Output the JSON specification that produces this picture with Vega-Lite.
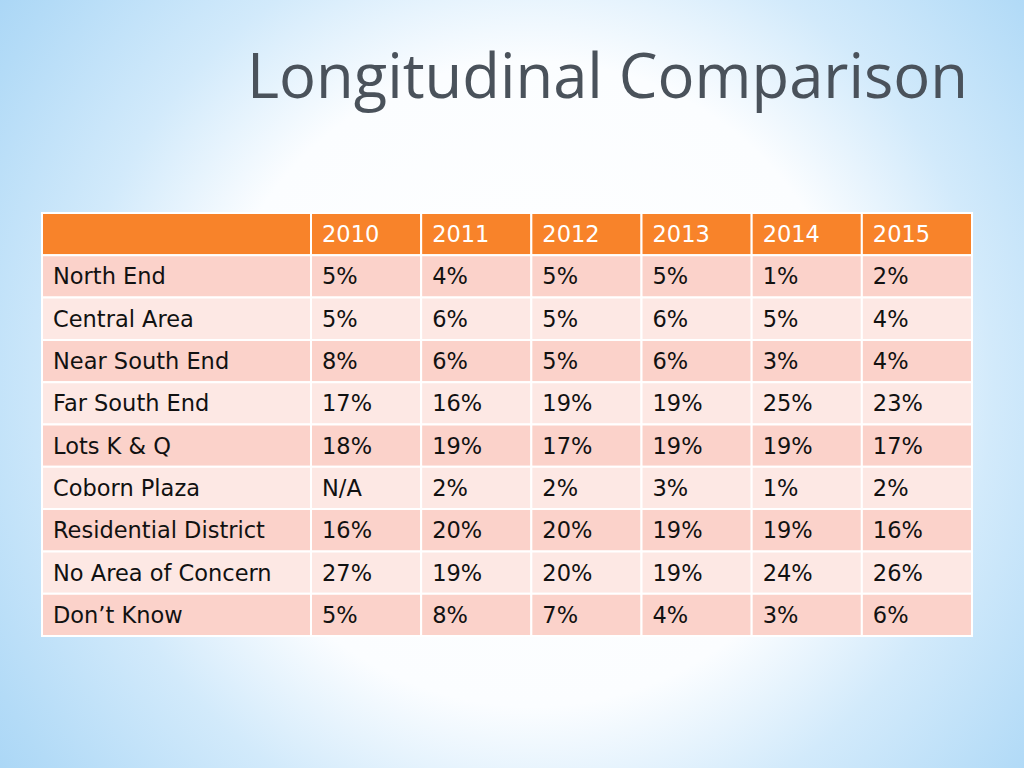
{
  "$schema": "https://vega.github.io/schema/vega-lite/v6.json",
  "width": 1024,
  "height": 768,
  "autosize": {"type": "fit", "contains": "padding"},
  "padding": 0,
  "background": "#ffffff",
  "config": {
    "view": {
      "stroke": null,
      "fill": {
        "gradient": "radial",
        "x1": 0.52, "y1": 0.5, "r1": 0,
        "x2": 0.52, "y2": 0.5, "r2": 0.75,
        "stops": [
          {"offset": 0, "color": "#ffffff"},
          {"offset": 0.42, "color": "#fbfdff"},
          {"offset": 0.6, "color": "#d2eafb"},
          {"offset": 0.8, "color": "#b3dbf7"},
          {"offset": 1, "color": "#98cdf3"}
        ]
      }
    }
  },
  "title": {
    "text": "Longitudinal Comparison",
    "anchor": "end",
    "orient": "top",
    "offset": -110,
    "dx": -56,
    "font": "Open Sans",
    "fontSize": 61.5,
    "fontWeight": "normal",
    "color": "#4a525b"
  },
  "datasets": {
    "years": [
      {"year": "2010"}, {"year": "2011"}, {"year": "2012"},
      {"year": "2013"}, {"year": "2014"}, {"year": "2015"}
    ],
    "cells": [
      {"area": "North End", "year": "2010", "value": "5%"},
      {"area": "North End", "year": "2011", "value": "4%"},
      {"area": "North End", "year": "2012", "value": "5%"},
      {"area": "North End", "year": "2013", "value": "5%"},
      {"area": "North End", "year": "2014", "value": "1%"},
      {"area": "North End", "year": "2015", "value": "2%"},
      {"area": "Central Area", "year": "2010", "value": "5%"},
      {"area": "Central Area", "year": "2011", "value": "6%"},
      {"area": "Central Area", "year": "2012", "value": "5%"},
      {"area": "Central Area", "year": "2013", "value": "6%"},
      {"area": "Central Area", "year": "2014", "value": "5%"},
      {"area": "Central Area", "year": "2015", "value": "4%"},
      {"area": "Near South End", "year": "2010", "value": "8%"},
      {"area": "Near South End", "year": "2011", "value": "6%"},
      {"area": "Near South End", "year": "2012", "value": "5%"},
      {"area": "Near South End", "year": "2013", "value": "6%"},
      {"area": "Near South End", "year": "2014", "value": "3%"},
      {"area": "Near South End", "year": "2015", "value": "4%"},
      {"area": "Far South End", "year": "2010", "value": "17%"},
      {"area": "Far South End", "year": "2011", "value": "16%"},
      {"area": "Far South End", "year": "2012", "value": "19%"},
      {"area": "Far South End", "year": "2013", "value": "19%"},
      {"area": "Far South End", "year": "2014", "value": "25%"},
      {"area": "Far South End", "year": "2015", "value": "23%"},
      {"area": "Lots K & Q", "year": "2010", "value": "18%"},
      {"area": "Lots K & Q", "year": "2011", "value": "19%"},
      {"area": "Lots K & Q", "year": "2012", "value": "17%"},
      {"area": "Lots K & Q", "year": "2013", "value": "19%"},
      {"area": "Lots K & Q", "year": "2014", "value": "19%"},
      {"area": "Lots K & Q", "year": "2015", "value": "17%"},
      {"area": "Coborn Plaza", "year": "2010", "value": "N/A"},
      {"area": "Coborn Plaza", "year": "2011", "value": "2%"},
      {"area": "Coborn Plaza", "year": "2012", "value": "2%"},
      {"area": "Coborn Plaza", "year": "2013", "value": "3%"},
      {"area": "Coborn Plaza", "year": "2014", "value": "1%"},
      {"area": "Coborn Plaza", "year": "2015", "value": "2%"},
      {"area": "Residential District", "year": "2010", "value": "16%"},
      {"area": "Residential District", "year": "2011", "value": "20%"},
      {"area": "Residential District", "year": "2012", "value": "20%"},
      {"area": "Residential District", "year": "2013", "value": "19%"},
      {"area": "Residential District", "year": "2014", "value": "19%"},
      {"area": "Residential District", "year": "2015", "value": "16%"},
      {"area": "No Area of Concern", "year": "2010", "value": "27%"},
      {"area": "No Area of Concern", "year": "2011", "value": "19%"},
      {"area": "No Area of Concern", "year": "2012", "value": "20%"},
      {"area": "No Area of Concern", "year": "2013", "value": "19%"},
      {"area": "No Area of Concern", "year": "2014", "value": "24%"},
      {"area": "No Area of Concern", "year": "2015", "value": "26%"},
      {"area": "Don’t Know", "year": "2010", "value": "5%"},
      {"area": "Don’t Know", "year": "2011", "value": "8%"},
      {"area": "Don’t Know", "year": "2012", "value": "7%"},
      {"area": "Don’t Know", "year": "2013", "value": "4%"},
      {"area": "Don’t Know", "year": "2014", "value": "3%"},
      {"area": "Don’t Know", "year": "2015", "value": "6%"}
    ],
    "areas": [
      {"area": "North End"}, {"area": "Central Area"}, {"area": "Near South End"},
      {"area": "Far South End"}, {"area": "Lots K & Q"}, {"area": "Coborn Plaza"},
      {"area": "Residential District"}, {"area": "No Area of Concern"}, {"area": "Don’t Know"}
    ]
  },
  "resolve": {"scale": {"x": "independent"}},
  "layer": [
    {
      "layer": [
        {
          "data": {"name": "years"},
          "mark": {"type": "rect", "fill": "#f8832a", "stroke": "#ffffff", "strokeWidth": 2},
          "encoding": {
            "x": {"field": "year", "type": "nominal", "axis": null,
                  "scale": {"domain": ["2010","2011","2012","2013","2014","2015"], "range": [311, 972], "paddingInner": 0, "paddingOuter": 0}},
            "y": {"datum": "_head", "type": "nominal", "axis": null}
          }
        },
        {
          "data": {"name": "years"},
          "mark": {"type": "text", "align": "left", "baseline": "middle", "dx": 11, "dy": 1, "font": "DejaVu Sans", "fontSize": 22.5, "fontWeight": 500, "color": "#ffffff"},
          "encoding": {
            "x": {"field": "year", "type": "nominal", "axis": null, "bandPosition": 0},
            "y": {"datum": "_head", "type": "nominal", "axis": null},
            "text": {"field": "year"}
          }
        },
        {
          "data": {"name": "cells"},
          "mark": {"type": "rect", "stroke": "#ffffff", "strokeWidth": 2},
          "encoding": {
            "x": {"field": "year", "type": "nominal", "axis": null},
            "y": {"field": "area", "type": "nominal", "axis": null},
            "color": {"field": "area", "type": "nominal", "legend": null,
                      "scale": {"domain": ["North End","Central Area","Near South End","Far South End","Lots K & Q","Coborn Plaza","Residential District","No Area of Concern","Don’t Know"],
                                "range": ["#fbd2ca","#fde8e4","#fbd2ca","#fde8e4","#fbd2ca","#fde8e4","#fbd2ca","#fde8e4","#fbd2ca"]}}
          }
        },
        {
          "data": {"name": "cells"},
          "mark": {"type": "text", "align": "left", "baseline": "middle", "dx": 11, "dy": 1, "font": "DejaVu Sans", "fontSize": 22.5, "color": "#111111"},
          "encoding": {
            "x": {"field": "year", "type": "nominal", "axis": null, "bandPosition": 0},
            "y": {"field": "area", "type": "nominal", "axis": null},
            "text": {"field": "value"}
          }
        }
      ]
    },
    {
      "layer": [
        {
          "data": {"values": [{}]},
          "mark": {"type": "rect", "fill": "#f8832a", "stroke": "#ffffff", "strokeWidth": 2},
          "encoding": {
            "x": {"datum": "Area", "type": "nominal", "axis": null,
                  "scale": {"domain": ["Area"], "range": [42, 311], "paddingInner": 0, "paddingOuter": 0}},
            "y": {"datum": "_head", "type": "nominal", "axis": null}
          }
        },
        {
          "data": {"name": "areas"},
          "mark": {"type": "rect", "stroke": "#ffffff", "strokeWidth": 2},
          "encoding": {
            "x": {"datum": "Area", "type": "nominal", "axis": null},
            "y": {"field": "area", "type": "nominal", "axis": null},
            "color": {"field": "area", "type": "nominal", "legend": null}
          }
        },
        {
          "data": {"name": "areas"},
          "mark": {"type": "text", "align": "left", "baseline": "middle", "dx": 11, "dy": 1, "font": "DejaVu Sans", "fontSize": 22.5, "color": "#111111"},
          "encoding": {
            "x": {"datum": "Area", "type": "nominal", "axis": null, "bandPosition": 0},
            "y": {"field": "area", "type": "nominal", "axis": null},
            "text": {"field": "area"}
          }
        }
      ]
    }
  ],
  "encoding": {
    "y": {
      "type": "nominal",
      "scale": {"domain": ["_head","North End","Central Area","Near South End","Far South End","Lots K & Q","Coborn Plaza","Residential District","No Area of Concern","Don’t Know"],
                "range": [213, 636], "paddingInner": 0, "paddingOuter": 0}
    }
  }
}
